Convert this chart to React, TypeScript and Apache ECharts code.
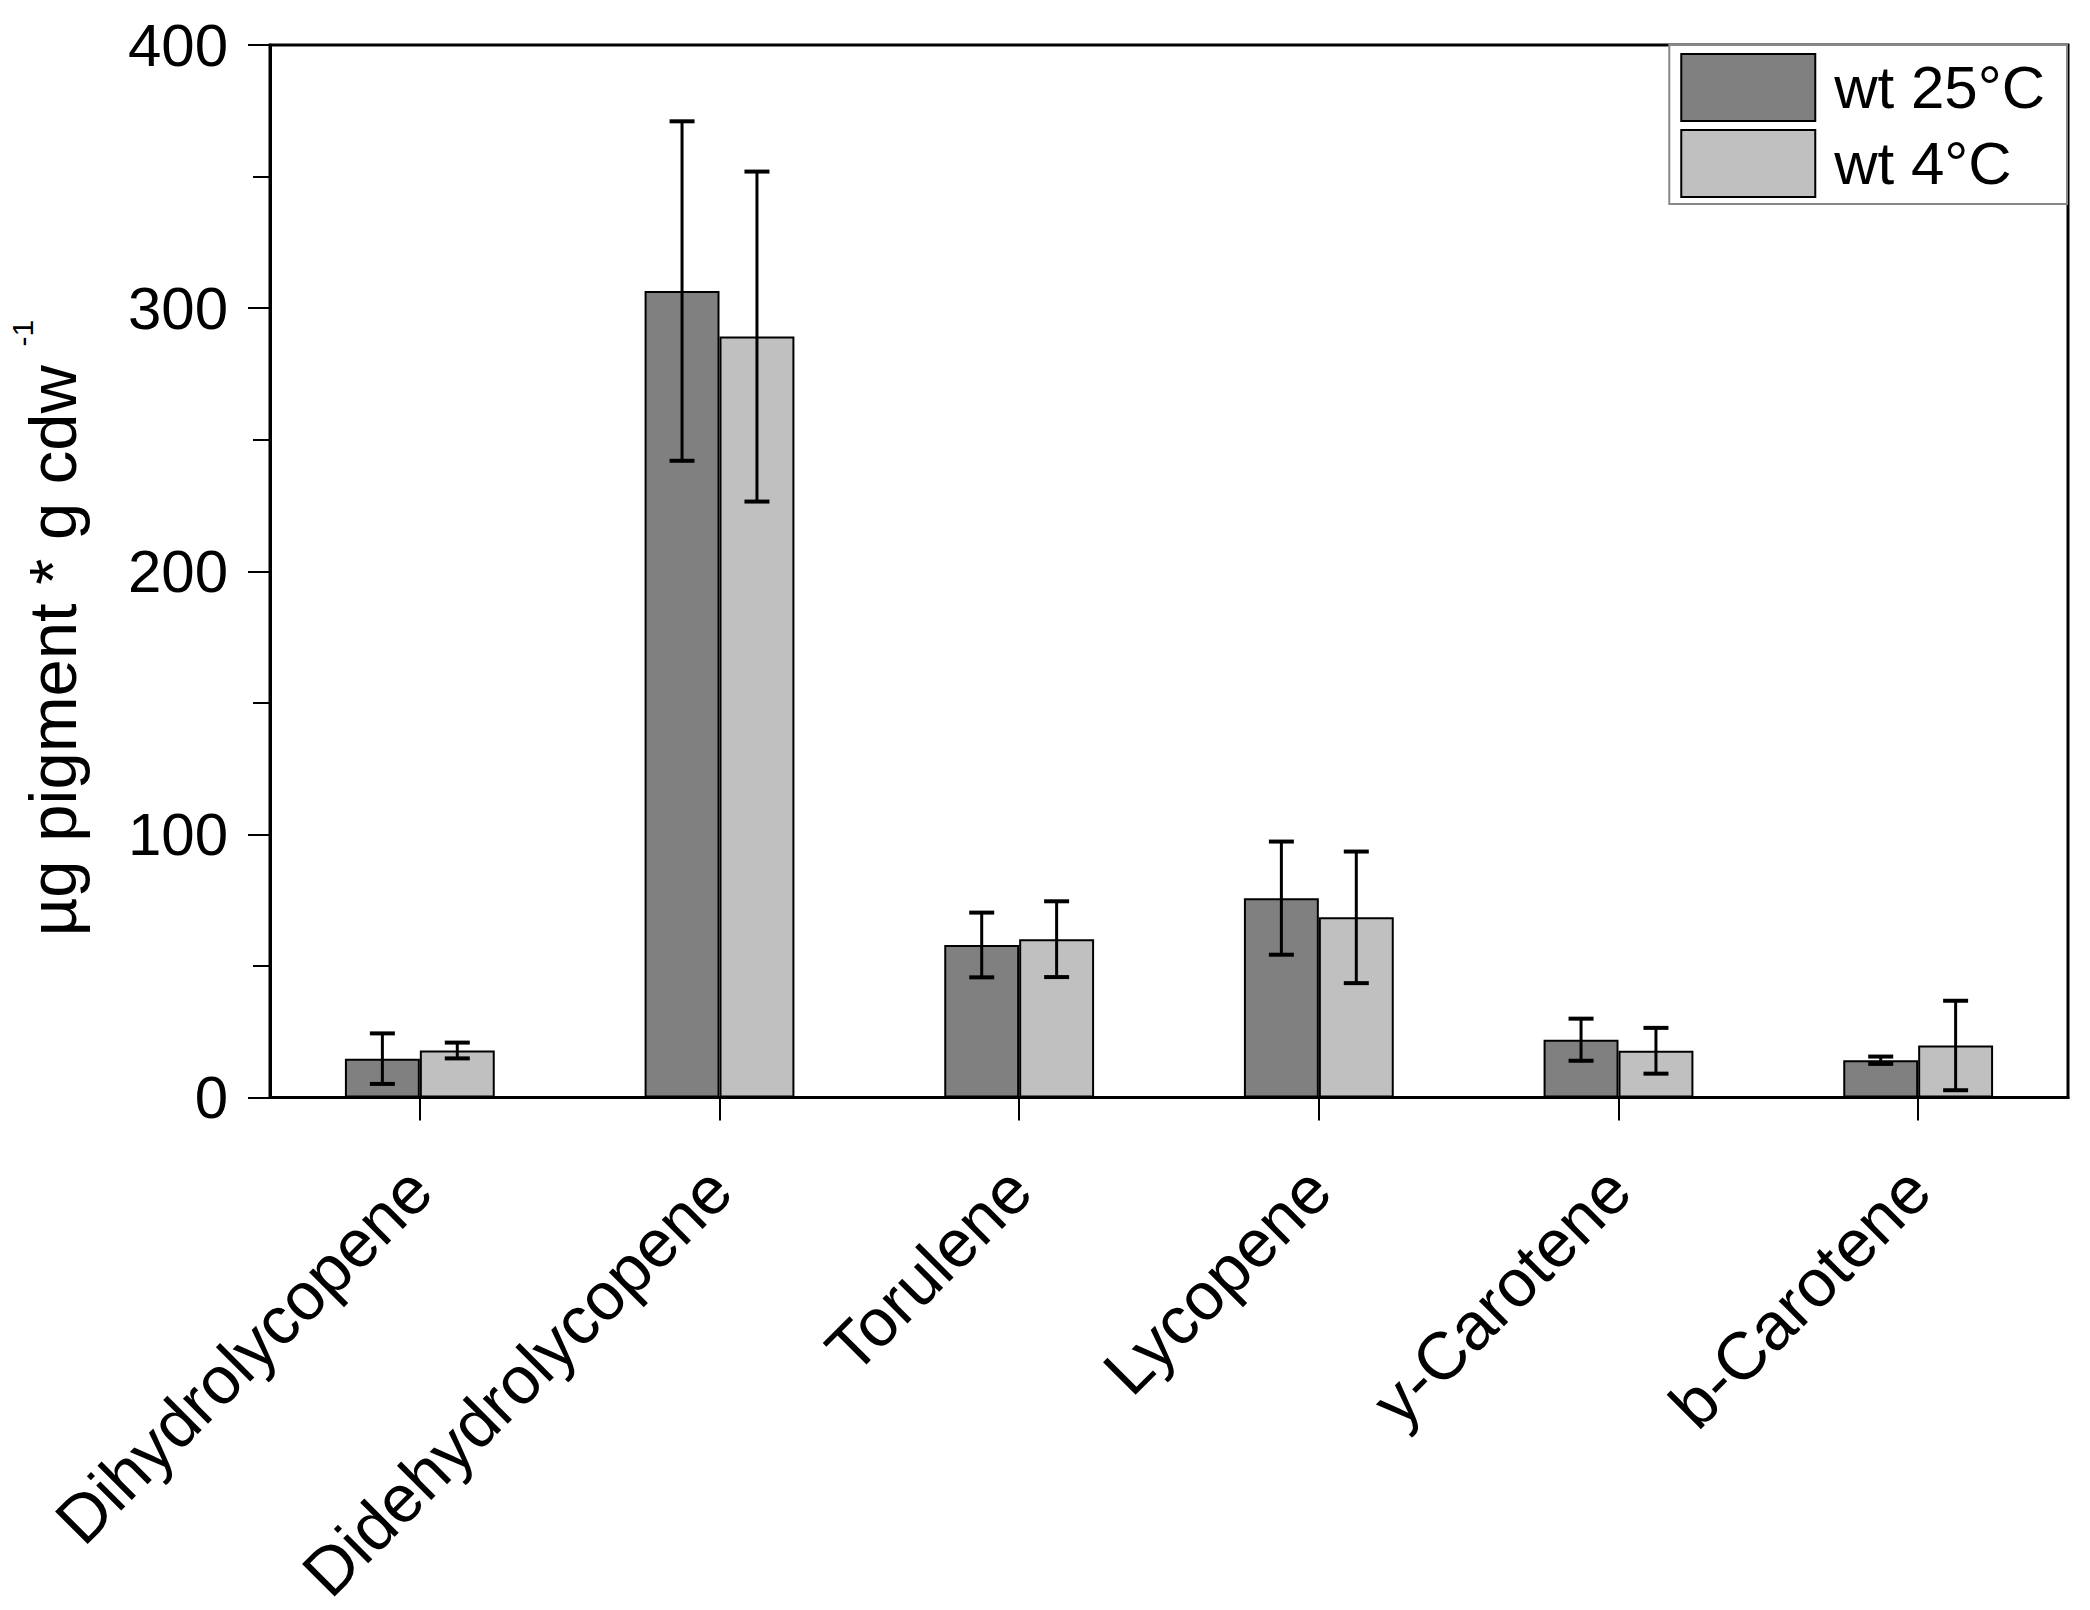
import React, { useEffect, useRef } from "react";
import * as echarts from "echarts";

const categories = [
  "Dihydrolycopene",
  "Didehydrolycopene",
  "Torulene",
  "Lycopene",
  "y-Carotene",
  "b-Carotene",
];
const seriesNames = ["wt 25°C", "wt 4°C"];
const wt25 = [14.8, 306.5, 58.0, 75.8, 22.0, 14.2];
const err25 = [9.6, 64.5, 12.3, 21.5, 8.0, 1.4];
const wt4 = [17.9, 289.2, 60.2, 68.5, 17.8, 19.8];
const err4 = [3.0, 62.7, 14.4, 25.0, 8.7, 17.0];
const yMin = 0;
const yMax = 400;
const yStep = 100;

const FONT = "'Liberation Sans', Arial, sans-serif";

function errData(vals: number[], errs: number[]) {
  return vals.map((v, i) => [i, v - errs[i], v + errs[i]]);
}

function errSeries(name: string, data: number[][], side: number) {
  return {
    type: "custom",
    name,
    data,
    silent: true,
    z: 10,
    encode: { x: 0, y: [1, 2] },
    renderItem: (params: any, api: any) => {
      const i = api.value(0);
      const lo = api.coord([i, api.value(1)]);
      const hi = api.coord([i, api.value(2)]);
      const band = api.size([1, 0])[0];
      const x = lo[0] + side * band * 0.125;
      const half = 12.5;
      const vStyle = { stroke: "#000", lineWidth: 3 };
      const cStyle = { stroke: "#000", lineWidth: 4 };
      return {
        type: "group",
        children: [
          { type: "line", shape: { x1: x, y1: lo[1], x2: x, y2: hi[1] }, style: vStyle },
          { type: "line", shape: { x1: x - half, y1: hi[1], x2: x + half, y2: hi[1] }, style: cStyle },
          { type: "line", shape: { x1: x - half, y1: lo[1], x2: x + half, y2: lo[1] }, style: cStyle },
        ],
      };
    },
  };
}

export default function App() {
  const ref = useRef<HTMLDivElement>(null);
  useEffect(() => {
    const chart = echarts.init(ref.current!, null, { renderer: "svg" });
    const option: any = {
      animation: false,
      backgroundColor: "#fff",
      textStyle: { fontFamily: FONT, color: "#000" },
      grid: {
        left: 270,
        right: 22,
        top: 45,
        bottom: 507,
        show: true,
        borderColor: "#000",
        borderWidth: 3,
        backgroundColor: "transparent",
      },
      legend: {
        data: seriesNames,
        orient: "vertical",
        right: 23,
        top: 45,
        itemWidth: 134,
        itemHeight: 67,
        itemGap: 7,
        padding: [8, 22, 6, 11],
        backgroundColor: "#fff",
        borderColor: "#888",
        borderWidth: 2,
        borderRadius: 0,
        icon: "rect",
        textStyle: {
          fontFamily: FONT,
          fontSize: 60,
          color: "#000",
          padding: [0, 0, 0, 14],
        },
      },
      xAxis: {
        type: "category",
        data: categories,
        boundaryGap: true,
        axisLine: { lineStyle: { color: "#000", width: 3 } },
        axisTick: {
          show: true,
          alignWithLabel: true,
          inside: false,
          length: 23,
          lineStyle: { color: "#000", width: 2 },
        },
        axisLabel: {
          rotate: 45,
          margin: 81,
          fontSize: 67,
          fontFamily: FONT,
          color: "#000",
          interval: 0,
        },
        splitLine: { show: false },
      },
      yAxis: {
        type: "value",
        min: yMin,
        max: yMax,
        interval: yStep,
        axisLine: { show: true, lineStyle: { color: "#000", width: 3 } },
        axisTick: {
          show: true,
          inside: false,
          length: 22,
          lineStyle: { color: "#000", width: 2 },
        },
        minorTick: {
          show: true,
          splitNumber: 2,
          length: 17,
          lineStyle: { color: "#000", width: 2 },
        },
        axisLabel: {
          margin: 42,
          fontSize: 60,
          fontFamily: FONT,
          color: "#000",
        },
        splitLine: { show: false },
      },
      graphic: [
        {
          type: "text",
          x: 52,
          y: 628,
          rotation: Math.PI / 2,
          style: {
            text: "{a|µg pigment * g cdw }{s|-1}",
            textAlign: "center",
            textVerticalAlign: "middle",
            fill: "#000",
            fontFamily: FONT,
            rich: {
              a: { fontSize: 67, fontFamily: FONT, fill: "#000", lineHeight: 90 },
              s: {
                fontSize: 30,
                fontFamily: FONT,
                fill: "#000",
                verticalAlign: "top",
                lineHeight: 30,
              },
            },
          },
        },
      ],
      series: [
        {
          name: seriesNames[0],
          type: "bar",
          data: wt25,
          barWidth: "25%",
          barGap: "0%",
          itemStyle: { color: "#808080", borderColor: "#000", borderWidth: 2 },
        },
        {
          name: seriesNames[1],
          type: "bar",
          data: wt4,
          barWidth: "25%",
          barGap: "0%",
          itemStyle: { color: "#c0c0c0", borderColor: "#000", borderWidth: 2 },
        },
        errSeries("err25", errData(wt25, err25), -1),
        errSeries("err4", errData(wt4, err4), 1),
      ],
    };
    chart.setOption(option);
    return () => chart.dispose();
  }, []);
  return (
    <div
      ref={ref}
      style={{ position: "fixed", left: 0, top: 0, width: 2090, height: 1610, background: "#fff" }}
    />
  );
}
